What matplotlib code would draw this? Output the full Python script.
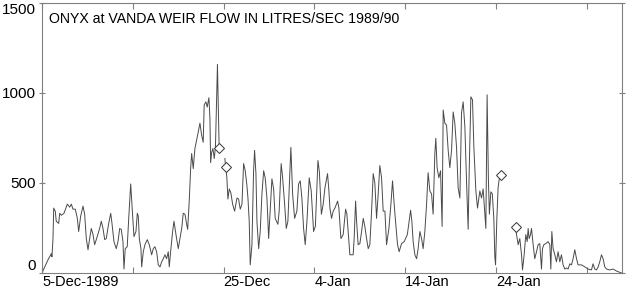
import matplotlib
matplotlib.use("Agg")
import matplotlib.pyplot as plt

plt.rcParams["font.family"] = ["Liberation Sans", "DejaVu Sans"]

# time in days after 5-Dec-1989 00:00, flow in litres/sec
# three runs of record, broken where data are missing
days_a = [0.00, 0.30, 0.66, 1.02, 1.10, 1.21, 1.29, 1.46, 1.57, 1.84,
          1.95, 2.13, 2.42, 2.79, 3.05, 3.23, 3.41, 3.67, 3.89, 4.04,
          4.26, 4.52, 4.70, 4.88, 5.07, 5.25, 5.43, 5.62, 5.80, 5.98,
          6.35, 6.53, 6.72, 6.91, 7.08, 7.35, 7.57, 7.71, 7.93, 8.18,
          8.37, 8.56, 8.73, 8.92, 9.03, 9.17, 9.39, 9.55, 9.77, 9.97,
          10.13, 10.35, 10.50, 10.61, 10.72, 10.90, 10.98, 11.16, 11.34, 11.60,
          11.82, 12.08, 12.26, 12.44, 12.63, 12.81, 13.00, 13.18, 13.36, 13.55,
          13.73, 13.91, 14.02, 14.17, 14.39, 14.54, 14.76, 15.01, 15.20, 15.39,
          15.56, 15.75, 15.94, 16.05, 16.22, 16.38, 16.49, 16.66, 16.85, 17.21,
          17.40, 17.59, 17.76, 17.87, 18.06, 18.20, 18.39, 18.50, 18.58, 18.69,
          18.83, 18.98, 19.11, 19.33, 19.44, 19.52]
flow_a = [0, 34, 73, 107, 90, 191, 360, 343, 287, 275,
          331, 320, 331, 382, 365, 382, 354, 354, 303, 230,
          315, 371, 326, 191, 129, 191, 247, 213, 157, 185,
          247, 287, 247, 185, 191, 275, 331, 275, 174, 135,
          174, 247, 242, 174, 22, 135, 146, 298, 494, 330,
          202, 230, 331, 315, 191, 135, 34, 118, 157, 185,
          157, 101, 135, 146, 118, 45, 34, 62, 79, 101,
          79, 118, 34, 118, 230, 287, 213, 135, 191, 247,
          331, 326, 270, 242, 399, 584, 663, 579, 691, 781,
          831, 764, 725, 933, 949, 920, 972, 860, 612, 669,
          690, 635, 700, 1157, 880, 691]

days_b = [20.15, 20.23, 20.37, 20.48, 20.63, 20.81, 21.00, 21.22, 21.48, 21.66,
          21.84, 22.03, 22.21, 22.39, 22.58, 22.69, 22.83, 22.94, 23.13, 23.31,
          23.42, 23.57, 23.68, 23.87, 24.04, 24.23, 24.42, 24.59, 24.78, 24.97,
          25.14, 25.33, 25.52, 25.69, 25.99, 26.13, 26.35, 26.51, 26.73, 26.91,
          27.09, 27.28, 27.42, 27.61, 27.83, 28.08, 28.27, 28.45, 28.63, 28.82,
          29.00, 29.19, 29.44, 29.66, 29.92, 30.12, 30.40, 30.56, 30.78, 30.98,
          31.17, 31.46, 31.61, 31.72, 31.90, 32.08, 32.27, 32.57, 32.71, 32.93,
          33.18, 33.45, 33.59, 33.73, 33.92, 34.28, 34.39, 34.55, 34.66, 34.83,
          35.02, 35.21, 35.39, 35.57, 35.76, 35.94, 36.12, 36.31, 36.49, 36.67,
          36.86, 37.04, 37.22, 37.41, 37.59, 37.78, 37.96, 38.22, 38.44, 38.62,
          38.80, 38.95, 39.17, 39.35, 39.61, 39.90, 40.05, 40.25, 40.45, 40.61,
          40.75, 40.89, 41.08, 41.27, 41.44, 41.63, 41.82, 41.99, 42.18, 42.37,
          42.54, 42.73, 42.92, 43.09, 43.28, 43.39, 43.53, 43.72, 43.91, 44.08,
          44.20, 44.38, 44.57, 44.75, 44.93, 45.12, 45.30, 45.48, 45.67, 45.85,
          46.04, 46.22, 46.40, 46.59, 46.77, 46.95, 47.06, 47.25, 47.43, 47.58,
          47.80, 47.98, 48.24, 48.42, 48.60, 48.79, 48.90, 49.04, 49.18, 49.29,
          49.45, 49.61, 49.78, 49.89, 49.97, 50.11, 50.25, 50.39, 50.52]
flow_b = [635, 590, 528, 410, 466, 444, 382, 343, 416, 410,
          354, 382, 607, 567, 483, 416, 287, 45, 157, 567,
          680, 551, 287, 135, 230, 438, 567, 528, 416, 191,
          343, 522, 466, 303, 270, 343, 607, 528, 382, 247,
          287, 528, 697, 438, 303, 343, 494, 511, 416, 247,
          157, 287, 528, 455, 230, 260, 624, 560, 326, 382,
          472, 551, 455, 360, 303, 343, 360, 399, 360, 191,
          213, 354, 326, 230, 101, 101, 191, 399, 287, 157,
          163, 230, 303, 258, 191, 135, 157, 343, 551, 500,
          303, 438, 596, 528, 343, 343, 157, 247, 382, 511,
          382, 287, 157, 118, 163, 174, 191, 213, 287, 348,
          287, 174, 101, 79, 135, 230, 191, 135, 230, 382,
          556, 455, 438, 326, 663, 747, 584, 528, 567, 258,
          904, 831, 820, 680, 584, 680, 893, 831, 697, 472,
          416, 888, 949, 809, 511, 242, 551, 977, 960, 697,
          455, 360, 455, 416, 466, 326, 247, 988, 520, 326,
          450, 440, 300, 90, 45, 300, 472, 528, 545]

days_c = [52.17, 52.28, 52.46, 52.64, 52.83, 52.94, 53.12, 53.30, 53.45, 53.56,
          53.67, 53.82, 53.93, 54.11, 54.29, 54.48, 54.66, 54.84, 55.03, 55.14,
          55.29, 55.51, 55.76, 55.95, 56.06, 56.17, 56.31, 56.50, 56.68, 56.86,
          57.05, 57.23, 57.41, 57.60, 57.78, 57.96, 58.15, 58.34, 58.51, 58.70,
          58.89, 59.06, 59.44, 59.80, 60.16, 60.54, 60.71, 60.90, 61.09, 61.27,
          61.45, 61.64, 61.82, 62.00, 62.19, 62.55, 62.92, 63.29, 63.84]
flow_c = [253, 213, 157, 191, 101, 17, 101, 213, 174, 247,
          191, 213, 247, 157, 79, 118, 157, 163, 22, 135,
          157, 163, 174, 157, 22, 230, 135, 101, 62, 118,
          62, 101, 45, 22, 28, 22, 51, 45, 79, 129,
          79, 45, 45, 34, 22, 17, 51, 22, 17, 34,
          62, 101, 79, 34, 22, 17, 22, 11, 0]

# diamonds mark the ends of the missing stretches
gap_days = [19.52, 20.23, 50.52, 52.17]
gap_flow = [691, 590, 545, 253]

tick_days = [0, 10, 20, 30, 40, 50, 60]
tick_labels = ["5-Dec-1989", "", "25-Dec", "4-Jan", "14-Jan", "24-Jan", ""]
y_ticks = [0, 500, 1000, 1500]

title = "ONYX at VANDA WEIR FLOW IN LITRES/SEC 1989/90"

fig = plt.figure(figsize=(6.27, 2.89), dpi=100)
ax = fig.add_axes([42 / 627, (289 - 273) / 289, 580 / 627, 270.5 / 289])

line_col = "#4a4a4a"
for d, f in [(days_a, flow_a), (days_b, flow_b), (days_c, flow_c)]:
    ax.plot(d, f, color=line_col, lw=0.7)
ax.plot(gap_days, gap_flow, ls="none", marker="D", ms=4.8, mfc="white",
        mec="#333333", mew=0.7)

ax.set_xlim(0, 63.9)
ax.set_ylim(0, 1500)

ax.set_xticks(tick_days)
ax.set_xticklabels(tick_labels, ha="left", fontsize=10.5)
ax.set_yticks(y_ticks)
ax.set_yticklabels([str(v) for v in y_ticks], fontsize=11)
ylabs = ax.get_yticklabels()
ylabs[0].set_va("bottom")
ylabs[-1].set_va("top")

ax.tick_params(axis="both", width=0.8, color="#808080",
               top=True, right=True, labelcolor="black")
ax.tick_params(axis="x", direction="in", length=4, pad=1.5)
ax.tick_params(axis="y", direction="inout", length=5, pad=2)
for s in ax.spines.values():
    s.set_color("#808080")
    s.set_linewidth(0.8)

ax.text(0.012, 0.965, title, transform=ax.transAxes, fontsize=10.2,
        ha="left", va="top")

fig.savefig("out.png", dpi=100)
